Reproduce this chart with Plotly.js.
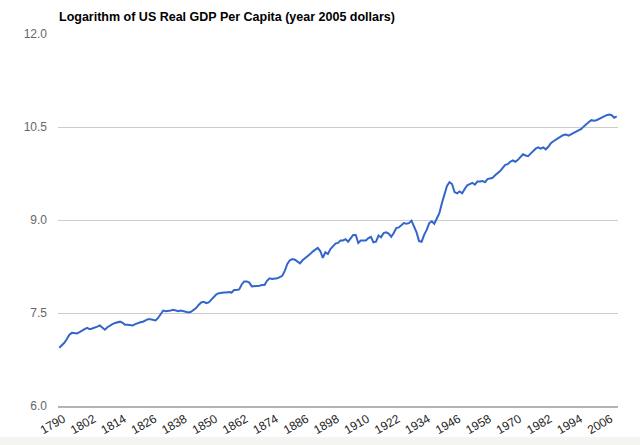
<!DOCTYPE html>
<html>
<head>
<meta charset="utf-8">
<script src="https://cdn.plot.ly/plotly-3.0.1.min.js"></script>
<style>
  html, body { margin: 0; padding: 0; background: #f4f5f1; }
  #chart { width: 640px; height: 437px; background: #ffffff; }
</style>
</head>
<body>
<div id="chart"></div>
<script>
// Data: natural log of US real GDP per capita (2005 dollars), annual 1790-2010
var startYear = 1790;
var logGdp = [
  6.94, 6.98, 7.02, 7.08, 7.15, 7.18, 7.18, 7.17, 7.19, 7.22,   // 1790s
  7.24, 7.26, 7.24, 7.25, 7.26, 7.28, 7.30, 7.27, 7.23, 7.27,   // 1800s
  7.30, 7.32, 7.34, 7.35, 7.36, 7.34, 7.31, 7.31, 7.31, 7.30,   // 1810s
  7.32, 7.34, 7.35, 7.36, 7.38, 7.40, 7.40, 7.39, 7.38, 7.42,   // 1820s
  7.49, 7.54, 7.53, 7.53, 7.54, 7.55, 7.54, 7.53, 7.54, 7.53,   // 1830s
  7.51, 7.51, 7.52, 7.55, 7.58, 7.63, 7.67, 7.68, 7.66, 7.67,   // 1840s
  7.71, 7.75, 7.80, 7.82, 7.83, 7.83, 7.83, 7.84, 7.83, 7.87,   // 1850s
  7.87, 7.88, 7.96, 8.01, 8.01, 7.99, 7.93, 7.93, 7.94, 7.94,   // 1860s
  7.95, 7.95, 8.02, 8.06, 8.05, 8.05, 8.06, 8.08, 8.10, 8.18,   // 1870s
  8.29, 8.35, 8.37, 8.36, 8.33, 8.30, 8.35, 8.38, 8.41, 8.45,   // 1880s
  8.49, 8.52, 8.55, 8.50, 8.39, 8.48, 8.45, 8.53, 8.58, 8.62,   // 1890s
  8.63, 8.67, 8.67, 8.69, 8.65, 8.71, 8.76, 8.76, 8.63, 8.67,   // 1900s
  8.67, 8.67, 8.71, 8.73, 8.64, 8.65, 8.75, 8.72, 8.79, 8.80,   // 1910s
  8.78, 8.73, 8.79, 8.87, 8.88, 8.91, 8.95, 8.94, 8.95, 8.99,   // 1920s
  8.89, 8.80, 8.66, 8.65, 8.76, 8.84, 8.95, 8.98, 8.94, 9.02,   // 1930s
  9.11, 9.27, 9.42, 9.55, 9.61, 9.58, 9.45, 9.43, 9.46, 9.43,   // 1940s
  9.50, 9.56, 9.58, 9.60, 9.57, 9.62, 9.62, 9.63, 9.61, 9.66,   // 1950s
  9.67, 9.68, 9.72, 9.75, 9.79, 9.84, 9.89, 9.90, 9.94, 9.96,   // 1960s
  9.94, 9.97, 10.02, 10.06, 10.04, 10.03, 10.07, 10.11, 10.15, 10.17, // 1970s
  10.15, 10.17, 10.14, 10.18, 10.24, 10.27, 10.30, 10.32, 10.35, 10.37, // 1980s
  10.38, 10.36, 10.38, 10.40, 10.43, 10.44, 10.47, 10.51, 10.55, 10.58, // 1990s
  10.61, 10.60, 10.61, 10.63, 10.66, 10.68, 10.69, 10.70, 10.69, 10.65, // 2000s
  10.67                                                              // 2010
];
var xTickLabels = ['1790','1802','1814','1826','1838','1850','1862','1874','1886',
                   '1898','1910','1922','1934','1946','1958','1970','1982','1994','2006'];
var yTickValues = [6.0, 7.5, 9.0, 10.5, 12.0];
var yTickLabels = ['6.0', '7.5', '9.0', '10.5', '12.0'];
var chartTitle = 'Logarithm of US Real GDP Per Capita (year 2005 dollars)';

var years = logGdp.map(function (v, i) { return startYear + i; });
var xTickValues = xTickLabels.map(function (s) { return Number(s); });

var trace = {
  x: years,
  y: logGdp,
  type: 'scatter',
  mode: 'lines',
  line: { color: '#3366cc', width: 2 },
  hoverinfo: 'x+y'
};

var layout = {
  width: 640,
  height: 437,
  margin: { l: 58, r: 22, t: 34, b: 31, pad: 0 },
  paper_bgcolor: '#ffffff',
  plot_bgcolor: '#ffffff',
  font: { family: 'Arial, "Liberation Sans", sans-serif', size: 12, color: '#222222' },
  showlegend: false,
  annotations: [{
    text: chartTitle,
    font: { size: 12.5, weight: 'bold', color: '#000000', family: 'Arial, "Liberation Sans", sans-serif' },
    xref: 'paper', yref: 'paper',
    x: 0, xanchor: 'left',
    y: 1 + (34 - 17.5) / 372, yanchor: 'middle',
    showarrow: false,
    borderpad: 0
  }],
  xaxis: {
    range: [startYear - 0.5, startYear + logGdp.length - 0.5],
    tickmode: 'array',
    tickvals: xTickValues,
    ticktext: xTickLabels,
    tickangle: -30,
    ticks: '',
    ticklabelshift: 4,
    showgrid: false,
    zeroline: false,
    showline: true,
    linecolor: '#b3b3b3',
    linewidth: 1.5,
    tickfont: { size: 12, color: '#222222' },
    fixedrange: true
  },
  yaxis: {
    range: [6.0, 12.0],
    tickmode: 'array',
    tickvals: yTickValues,
    ticktext: yTickLabels,
    ticks: '',
    ticklabelstandoff: 10,
    showgrid: true,
    gridcolor: '#cccccc',
    gridwidth: 1,
    zeroline: false,
    showline: false,
    tickfont: { size: 12, color: '#666666' },
    fixedrange: true
  }
};

Plotly.newPlot('chart', [trace], layout, { displayModeBar: false, staticPlot: true });
</script>
</body>
</html>
